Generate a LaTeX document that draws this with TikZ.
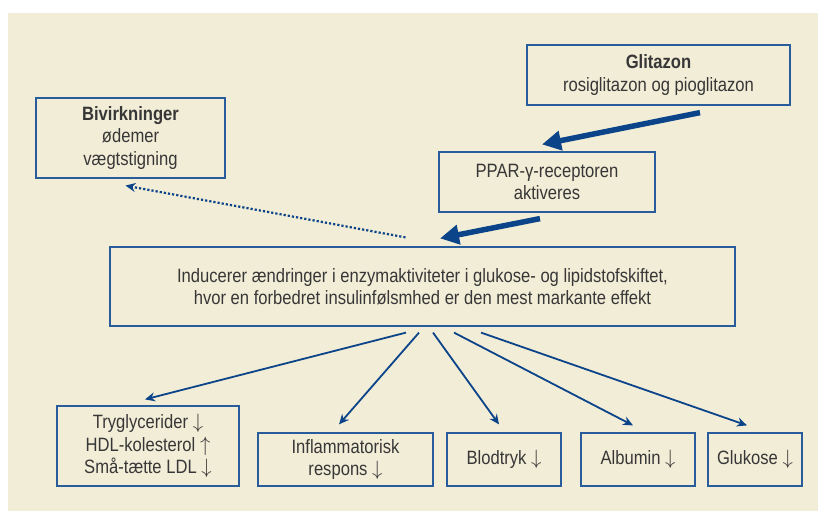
\documentclass[tikz,border=0pt]{standalone}
\usepackage{fontspec}
\setmainfont{Liberation Sans}[FakeStretch=0.86]
\usepackage{tikz}
\usetikzlibrary{arrows.meta}
\definecolor{cream}{RGB}{242,237,215}
\definecolor{boxblue}{RGB}{40,92,155}
\definecolor{arrowblue}{RGB}{12,68,138}
\definecolor{textgray}{RGB}{55,55,55}
\newcommand{\dn}{ $\downarrow$}
\newcommand{\up}{ $\uparrow$}
\tikzset{
  infobox/.style={draw=boxblue, line width=1.2pt, fill=cream, text=textgray,
    align=center, inner sep=2pt, font=\fontsize{19.3}{22.5}\selectfont},
  bigarrow/.style={draw=arrowblue, line width=5.5pt,
    -{Triangle[length=19pt,width=19pt]}},
  thinarrow/.style={draw=arrowblue, line width=1.8pt,
    -{Stealth[length=10pt,width=9pt]}},
  dotarrow/.style={draw=arrowblue, line width=2.2pt, dotted,
    -{Stealth[length=10pt,width=9pt]}}
}

\begin{document}
\begin{tikzpicture}[x=1pt,y=-1pt]
\useasboundingbox (0,0) rectangle (818,511);
% background
\fill[cream] (8,13) rectangle (818,511);
%%% Draws top boxes
\node[infobox, minimum width=263pt, minimum height=60pt] (glitazon) at (658.5,75)
  {\textbf{Glitazon}\\rosiglitazon og pioglitazon};
\node[infobox, minimum width=189pt, minimum height=80pt] (bivirk) at (130.5,138)
  {\textbf{Bivirkninger}\\ødemer\\vægtstigning};
\node[infobox, minimum width=216pt, minimum height=60pt] (ppar) at (547,182)
  {PPAR-γ-receptoren\\aktiveres};
%%% Draws main box
\node[infobox, minimum width=625pt, minimum height=79pt] (effekt) at (422.5,286.5)
  {Inducerer ændringer i enzymaktiviteter i glukose- og lipidstofskiftet,\\hvor en forbedret insulinfølsmhed er den mest markante effekt};
%%% Draws bottom boxes
\node[infobox, minimum width=182pt, minimum height=80pt] (lipid) at (148,446)
  {Tryglycerider\dn\\HDL-kolesterol\up\\Små-tætte LDL\dn};
\node[infobox, minimum width=175pt, minimum height=53pt] (inflam) at (345.5,459.5)
  {Inflammatorisk\\respons\dn};
\node[infobox, minimum width=114pt, minimum height=53pt] (blodtryk) at (504,459.5)
  {Blodtryk\dn};
\node[infobox, minimum width=114pt, minimum height=53pt] (albumin) at (638,459.5)
  {Albumin\dn};
\node[infobox, minimum width=94pt, minimum height=53pt] (glukose) at (755,459.5)
  {Glukose\dn};
%%% Draws arrows
% thick arrows
\draw[bigarrow] ([xshift=41.5pt,yshift=-7pt]glitazon.south) -- ([xshift=-5pt,yshift=7pt]ppar.north);
\draw[bigarrow] ([xshift=-7pt,yshift=-6pt]ppar.south) -- ([xshift=17.5pt,yshift=8pt]effekt.north);
% side effects
\draw[dotarrow] ([xshift=-17pt,yshift=9pt]effekt.north) -- ([xshift=-5pt,yshift=-7pt]bivirk.south);
% effects
\draw[thinarrow] ([xshift=-16.5pt,yshift=-6pt]effekt.south) -- ([xshift=-3pt,yshift=6pt]lipid.north);
\draw[thinarrow] ([xshift=-3.5pt,yshift=-6pt]effekt.south) -- ([xshift=-6.5pt,yshift=8pt]inflam.north);
\draw[thinarrow] ([xshift=10.5pt,yshift=-6pt]effekt.south) -- ([xshift=-5pt,yshift=8pt]blodtryk.north);
\draw[thinarrow] ([xshift=31.5pt,yshift=-6pt]effekt.south) -- ([xshift=-5pt,yshift=7pt]albumin.north);
\draw[thinarrow] ([xshift=58.5pt,yshift=-6pt]effekt.south) -- ([xshift=-8pt,yshift=7pt]glukose.north);
\end{tikzpicture}
\end{document}
